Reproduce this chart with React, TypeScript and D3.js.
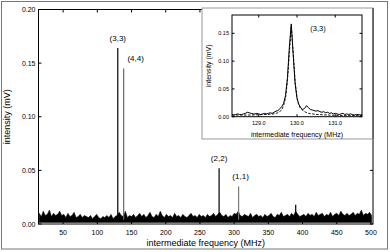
import React from "react";
import * as d3 from "d3";

// ---- main spectrum data ----
const peakLabels = ["(3,3)", "(4,4)", "(2,2)", "(1,1)", ""];
const peakFreqs = [129.9, 138.5, 278, 306.5, 390];
const peakValues = [0.164, 0.145, 0.052, 0.035, 0.018];
const peakShade = ["#000", "#666", "#000", "#777", "#000"];

const noiseStart = 15;
const noiseStep = 3;
const noiseValues = [
  0.010, 0.007, 0.012, 0.008, 0.009, 0.013, 0.007, 0.010, 0.008, 0.009,
  0.012, 0.008, 0.009, 0.006, 0.010, 0.007, 0.008, 0.011, 0.006, 0.007,
  0.009, 0.006, 0.008, 0.007, 0.006, 0.008, 0.005, 0.007, 0.009, 0.006,
  0.005, 0.007, 0.006, 0.008, 0.006, 0.009, 0.005, 0.007, 0.008, 0.011,
  0.008, 0.007, 0.012, 0.006, 0.008, 0.007, 0.009, 0.006, 0.008, 0.010,
  0.007, 0.009, 0.006, 0.008, 0.011, 0.007, 0.006, 0.009, 0.007, 0.012,
  0.008, 0.006, 0.009, 0.007, 0.008, 0.006, 0.010, 0.007, 0.008, 0.006,
  0.009, 0.007, 0.006, 0.008, 0.010, 0.007, 0.008, 0.006, 0.009, 0.007,
  0.008, 0.006, 0.009, 0.007, 0.008, 0.010, 0.007, 0.009, 0.011, 0.008,
  0.007, 0.009, 0.006, 0.008, 0.007, 0.010, 0.009, 0.012, 0.008, 0.007,
  0.009, 0.008, 0.007, 0.010, 0.006, 0.008, 0.009, 0.007, 0.008, 0.006,
  0.009, 0.007, 0.008, 0.010, 0.007, 0.006, 0.009, 0.008, 0.011, 0.007,
  0.008, 0.009, 0.007, 0.010, 0.008, 0.012, 0.009, 0.007, 0.008, 0.009,
  0.007, 0.010, 0.008, 0.009, 0.007, 0.011, 0.008, 0.009, 0.010, 0.007,
  0.009, 0.008, 0.011, 0.007, 0.009, 0.010, 0.008, 0.012, 0.009, 0.008,
  0.010, 0.008, 0.009, 0.011, 0.008, 0.010, 0.009, 0.013, 0.008, 0.010,
  0.009, 0.011, 0.008,
];
const noiseFloor = 0.0015;

const mainXTicks = [50, 100, 150, 200, 250, 300, 350, 400, 450, 500];
const mainYTicks = [0, 0.05, 0.1, 0.15, 0.2];

// ---- inset data ----
const insetFreqs = [
  128.3, 128.35, 128.4, 128.45, 128.5, 128.55, 128.6, 128.65, 128.7, 128.75,
  128.8, 128.85, 128.9, 128.95, 129.0, 129.05, 129.1, 129.15, 129.2, 129.25,
  129.3, 129.35, 129.4, 129.45, 129.5, 129.55, 129.6, 129.65, 129.7, 129.75,
  129.8, 129.85, 129.9, 129.95, 130.0, 130.05, 130.1, 130.15, 130.2, 130.25,
  130.3, 130.35, 130.4, 130.45, 130.5, 130.55, 130.6, 130.65, 130.7, 130.75,
  130.8, 130.85, 130.9, 130.95, 131.0, 131.05, 131.1, 131.15, 131.2, 131.25,
  131.3, 131.35, 131.4, 131.45, 131.5, 131.55, 131.6, 131.65, 131.7,
];
const insetMeasured = [
  0.004, 0.003, 0.004, 0.005, 0.004, 0.004, 0.005, 0.006, 0.008, 0.007,
  0.006, 0.005, 0.005, 0.006, 0.005, 0.004, 0.005, 0.006, 0.005, 0.006,
  0.007, 0.006, 0.008, 0.010, 0.011, 0.014, 0.018, 0.024, 0.038, 0.070,
  0.125, 0.167, 0.112, 0.060, 0.033, 0.022, 0.016, 0.013, 0.015, 0.020,
  0.016, 0.013, 0.012, 0.011, 0.010, 0.011, 0.009, 0.008, 0.009, 0.007,
  0.008, 0.006, 0.007, 0.005, 0.006, 0.005, 0.004, 0.005, 0.006, 0.004,
  0.005, 0.004, 0.005, 0.004, 0.003, 0.004, 0.004, 0.003, 0.004,
];
const fitFreqs = [
  128.3, 128.8, 129.2, 129.4, 129.5, 129.6, 129.65, 129.7, 129.75, 129.8,
  129.85, 129.9, 129.95, 130.0, 130.05, 130.1, 130.2, 130.3, 130.5, 130.8,
  131.2, 131.7,
];
const fitValues = [
  0.003, 0.003, 0.004, 0.005, 0.007, 0.012, 0.02, 0.034, 0.064, 0.115,
  0.163, 0.115, 0.064, 0.034, 0.02, 0.014, 0.009, 0.006, 0.004, 0.003,
  0.002, 0.002,
];
const insetXTicks = [129, 130, 131];
const insetYTicks = [0, 0.05, 0.1, 0.15];

const FONT = "'Liberation Sans', Arial, Helvetica, sans-serif";

export default function App() {
  const W = 390;
  const H = 252;
  const m = { left: 38.5, right: 373, top: 9.5, bottom: 224 };
  const x = d3.scaleLinear().domain([14, 503]).range([m.left, m.right]);
  const y = d3.scaleLinear().domain([0, 0.2]).range([m.bottom, m.top]);

  const noisePts = noiseValues.map((v, i) => ({ f: noiseStart + i * noiseStep, v }));
  const noiseArea = d3
    .area<{ f: number; v: number }>()
    .x((d) => x(Math.min(d.f, 503)))
    .y0(() => y(noiseFloor))
    .y1((d) => y(d.v));

  // inset
  const ib = { left: 202, right: 373, top: 8, bottom: 139 };
  const ip = { left: 232, right: 362, top: 15, bottom: 116.7 };
  const ix = d3.scaleLinear().domain([128.3, 131.7]).range([ip.left, ip.right]);
  const iy = d3.scaleLinear().domain([0, 0.183]).range([ip.bottom, ip.top]);
  const measLine = d3
    .line<number>()
    .x((_, i) => ix(insetFreqs[i]))
    .y((d) => iy(d));
  const fitLine = d3
    .line<number>()
    .x((_, i) => ix(fitFreqs[i]))
    .y((d) => iy(d));

  const tk = 3;
  return (
    <svg width={W} height={H} style={{ position: "absolute", left: 0, top: 0, background: "#fff" }} fontFamily={FONT}>
      <rect x={1.5} y={1.5} width={386} height={247.5} fill="#fff" stroke="#777" strokeWidth={1} />

      {/* main noise */}
      <path d={noiseArea(noisePts) || ""} fill="#000" stroke="#000" strokeWidth={0.5} />
      {/* peaks */}
      {peakFreqs.map((f, i) => (
        <line key={"p" + i} x1={x(f)} x2={x(f)} y1={y(0.004)} y2={y(peakValues[i])} stroke={peakShade[i]} strokeWidth={1.2} />
      ))}
      {peakLabels.map((l, i) =>
        l ? (
          <text key={"pl" + i} x={x(peakFreqs[i]) + (i === 1 ? 12 : i === 3 ? 2 : 0)} y={y(peakValues[i]) - 7} fontSize={8} textAnchor="middle">
            {l}
          </text>
        ) : null
      )}

      {/* main frame */}
      <rect x={m.left} y={m.top} width={m.right - m.left} height={m.bottom - m.top} fill="none" stroke="#000" strokeWidth={1} />
      {mainXTicks.map((t) => (
        <g key={"mx" + t}>
          <line x1={x(t)} x2={x(t)} y1={m.bottom} y2={m.bottom - tk} stroke="#000" />
          <line x1={x(t)} x2={x(t)} y1={m.top} y2={m.top + tk} stroke="#000" />
          <text x={x(t)} y={m.bottom + 10.5} fontSize={7} textAnchor="middle">
            {t}
          </text>
        </g>
      ))}
      {mainYTicks.map((t) => (
        <g key={"my" + t}>
          <line x1={m.left} x2={m.left + tk} y1={y(t)} y2={y(t)} stroke="#000" />
          <line x1={m.right} x2={m.right - tk} y1={y(t)} y2={y(t)} stroke="#000" />
          <text x={m.left - 3} y={y(t) + 2.5} fontSize={7} textAnchor="end">
            {d3.format(".2f")(t)}
          </text>
        </g>
      ))}
      <text x={(m.left + m.right) / 2} y={249 - 3} fontSize={9} textAnchor="middle">
        intermediate frequency (MHz)
      </text>
      <text transform={`translate(10,${(m.top + m.bottom) / 2}) rotate(-90)`} fontSize={9} textAnchor="middle">
        intensity (mV)
      </text>

      {/* inset */}
      <rect x={ib.left} y={ib.top} width={ib.right - ib.left} height={ib.bottom - ib.top} fill="#fff" stroke="#999" strokeWidth={1} />
      <line x1={ib.right} x2={ib.right} y1={ib.top} y2={ib.bottom} stroke="#555" strokeWidth={1.5} />
      <path d={fitLine(fitValues) || ""} fill="none" stroke="#000" strokeWidth={0.9} strokeDasharray="2.5,1.5" />
      <path d={measLine(insetMeasured) || ""} fill="none" stroke="#000" strokeWidth={1} />
      <rect x={ip.left} y={ip.top} width={ip.right - ip.left} height={ip.bottom - ip.top} fill="none" stroke="#000" strokeWidth={1} />
      {insetXTicks.map((t) => (
        <g key={"ix" + t}>
          <line x1={ix(t)} x2={ix(t)} y1={ip.bottom} y2={ip.bottom - 2.5} stroke="#000" />
          <line x1={ix(t)} x2={ix(t)} y1={ip.top} y2={ip.top + 2.5} stroke="#000" />
          <text x={ix(t)} y={ip.bottom + 8} fontSize={5.5} textAnchor="middle">
            {d3.format(".1f")(t)}
          </text>
        </g>
      ))}
      {insetYTicks.map((t) => (
        <g key={"iy" + t}>
          <line x1={ip.left} x2={ip.left + 2.5} y1={iy(t)} y2={iy(t)} stroke="#000" />
          <line x1={ip.right} x2={ip.right - 2.5} y1={iy(t)} y2={iy(t)} stroke="#000" />
          <text x={ip.left - 3} y={iy(t) + 2} fontSize={5.5} textAnchor="end">
            {d3.format(".2f")(t)}
          </text>
        </g>
      ))}
      <text x={(ip.left + ip.right) / 2} y={ib.bottom - 2} fontSize={7} textAnchor="middle">
        intermediate frequency (MHz)
      </text>
      <text transform={`translate(211,${(ip.top + ip.bottom) / 2}) rotate(-90)`} fontSize={7} textAnchor="middle">
        intensity (mV)
      </text>
      <text x={ix(130.55)} y={iy(0.155)} fontSize={7.5} textAnchor="middle">
        (3,3)
      </text>
    </svg>
  );
}
